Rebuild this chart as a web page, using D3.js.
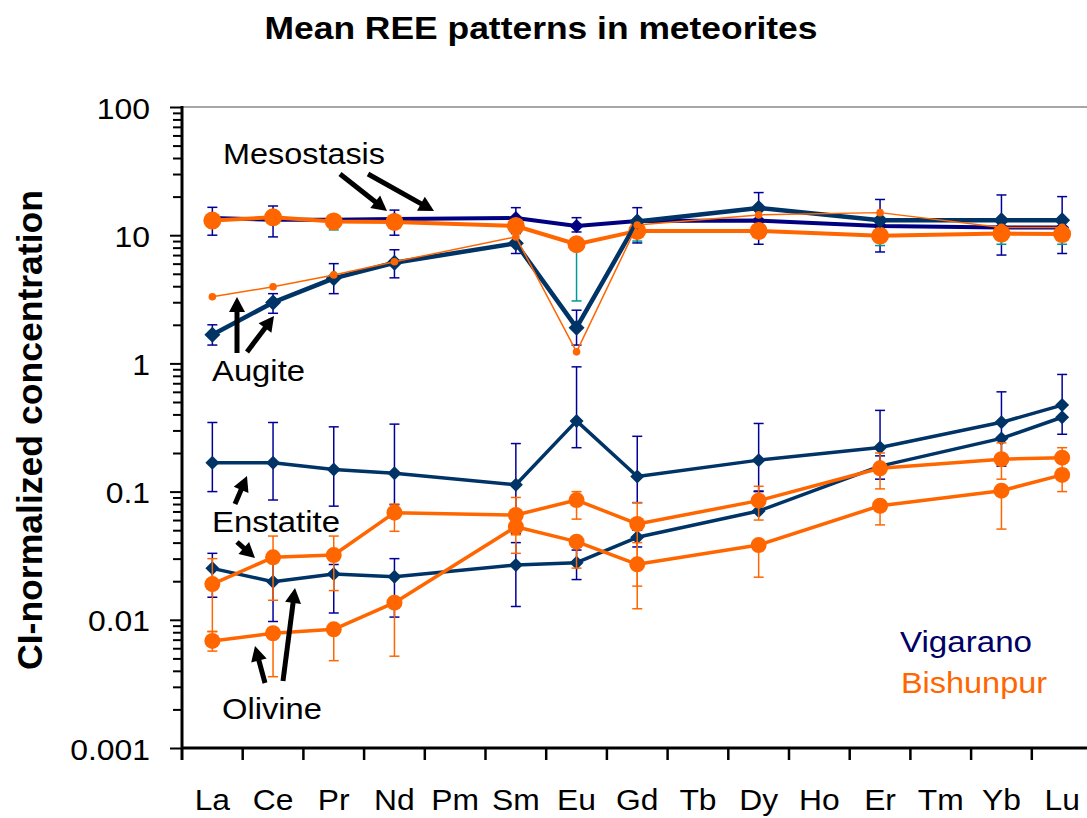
<!DOCTYPE html>
<html><head><meta charset="utf-8">
<script src="https://cdn.jsdelivr.net/npm/d3@7"></script>
<style>
body{margin:0;background:#fff}
svg{display:block}
text{font-family:"Liberation Sans",Arial,Helvetica,sans-serif}
</style>
</head><body>
<svg id="chart" width="1087" height="818"></svg>
<script>
// ---------- data ----------
const categories = ["La","Ce","Pr","Nd","Pm","Sm","Eu","Gd","Tb","Dy","Ho","Er","Tm","Yb","Lu"];
const yTickValues = [0.001, 0.01, 0.1, 1, 10, 100];
const yTickLabels = ["0.001", "0.01", "0.1", "1", "10", "100"];

// Mesostasis
const mesoVig   = [13.6, 13.2, 13.2, 13.4, null, 13.6, 11.8, 12.9, null, 13.0, null, 11.8, null, 11.5, 11.5];
const mesoVigLo = [10.0, 9.7, null, 10.0, null, 10.3, 10.6, 8.7, null, 8.5, null, 7.4, null, 7.0, 7.2];
const mesoVigHi = [16.5, 16.9, null, 15.7, null, 16.4, 13.7, 16.4, null, 21.5, null, 19.0, null, 20.6, 20.0];
const mesoBish   = [13.0, 13.8, 12.8, 12.7, null, 11.8, 8.5, 10.8, null, 10.8, null, 9.9, null, 10.3, 10.2];
const mesoBishLo = [null, null, 11.0, null, null, null, 3.07, 9.0, null, null, null, 8.3, null, 8.5, 8.5];
const mesoBishHi = [null, null, null, null, null, null, null, null, null, null, null, null, null, null, null];

// Augite
const augVig   = [1.67, 2.99, 4.61, 6.1, null, 8.65, 1.90, 12.8, null, 16.3, null, 13.1, null, 13.1, 13.1];
const augVigLo = [1.39, 2.46, 3.5, 4.65, null, 7.2, 1.39, null, null, null, null, null, null, null, null];
const augVigHi = [2.0, 3.5, 6.0, 7.7, null, null, 2.6, null, null, null, null, null, null, null, null];
const augBish  = [3.31, 3.96, 4.9, 6.2, null, 9.7, 1.23, 12.0, null, 14.4, null, 15.0, null, 11.5, 11.5];

// Enstatite
const enstVig   = [0.168, 0.168, 0.149, 0.139, null, 0.113, 0.356, 0.131, null, 0.176, null, 0.221, null, 0.347, 0.473];
const enstVigLo = [0.1, 0.086, 0.077, 0.079, null, 0.047, 0.22, 0.082, null, 0.101, null, 0.125, null, 0.158, 0.28];
const enstVigHi = [0.346, 0.346, 0.32, 0.336, null, 0.237, 0.94, 0.27, null, 0.34, null, 0.43, null, 0.6, 0.82];
const enstBish   = [0.019, 0.0307, 0.032, 0.0685, null, 0.0657, 0.0859, 0.0559, null, 0.085, null, 0.152, null, 0.179, 0.184];
const enstBishLo = [0.0081, 0.0142, 0.0169, 0.049, null, 0.046, 0.061, 0.0183, null, 0.06, null, 0.105, null, 0.125, 0.15];
const enstBishHi = [0.03, 0.045, 0.045, 0.08, null, 0.09, 0.1, 0.082, null, 0.11, null, 0.2, null, 0.24, 0.22];

// Olivine
const olVig   = [0.0252, 0.0198, 0.0228, 0.0217, null, 0.0268, 0.0279, 0.044, null, 0.0706, null, 0.158, null, 0.26, 0.38];
const olVigLo = [0.015, 0.0097, 0.0113, 0.0105, null, 0.0127, 0.0206, 0.037, null, null, null, null, null, null, null];
const olVigHi = [0.033, 0.03, 0.027, 0.03, null, 0.04, 0.035, 0.05, null, 0.1, null, 0.19, null, null, null];
const olBish   = [0.00684, 0.00785, 0.00843, 0.0136, null, 0.0532, 0.0407, 0.0271, null, 0.0383, null, 0.0776, null, 0.1016, 0.135];
const olBishLo = [0.0057, 0.0036, 0.0048, 0.0052, null, 0.033, 0.0253, 0.0122, null, 0.0215, null, 0.055, null, 0.051, 0.1];
const olBishHi = [0.0081, null, null, null, null, null, null, 0.04, null, null, null, null, null, null, null];

// ---------- styles ----------
const NAVY = "#000080", DARK = "#003366", ORANGE = "#FF6600", ERRNAVY = "#000099", TEAL = "#009999";
const series = [
  {v: mesoVig,  lo: mesoVigLo,  hi: mesoVigHi,  color: NAVY,   w: 4,   marker: "diamond", s: 7,   err: ERRNAVY},
  {v: mesoBish, lo: mesoBishLo, hi: mesoBishHi, color: ORANGE, w: 4,   marker: "circle",  s: 9,   err: TEAL},
  {v: augVig,   lo: augVigLo,   hi: augVigHi,   color: DARK,   w: 4.5, marker: "diamond", s: 8,   err: ERRNAVY},
  {v: augBish,  lo: null,       hi: null,       color: ORANGE, w: 1.5, marker: "circle",  s: 3.8, err: ORANGE},
  {v: enstVig,  lo: enstVigLo,  hi: enstVigHi,  color: DARK,   w: 3.5, marker: "diamond", s: 7,   err: ERRNAVY},
  {v: olVig,    lo: olVigLo,    hi: olVigHi,    color: DARK,   w: 3.5, marker: "diamond", s: 7,   err: ERRNAVY},
  {v: enstBish, lo: enstBishLo, hi: enstBishHi, color: ORANGE, w: 3.5, marker: "circle",  s: 8,   err: ORANGE},
  {v: olBish,   lo: olBishLo,   hi: olBishHi,   color: ORANGE, w: 3.5, marker: "circle",  s: 8,   err: ORANGE}
];

// ---------- scales ----------
const svg = d3.select("#chart");
const x = d3.scaleBand().domain(categories).range([182, 1092.5]);
const cx = c => x(c) + x.bandwidth() / 2;
const y = d3.scaleLog().domain([0.001, 100]).range([748, 107]);

function stretch(sel, f) {
  sel.each(function () {
    const L = this.getComputedTextLength();
    d3.select(this).attr("textLength", L * f).attr("lengthAdjust", "spacingAndGlyphs");
  });
}

// top frame line
svg.append("line").attr("x1", 182).attr("x2", 1087).attr("y1", y(100)).attr("y2", y(100))
  .attr("stroke", "#a6a6a6").attr("stroke-width", 2);

// ---------- series ----------
const line = d3.line().x(d => cx(d.c)).y(d => y(d.v));
series.forEach(S => {
  const pts = categories.map((c, i) => ({c, i, v: S.v[i]})).filter(d => d.v != null);
  const g = svg.append("g");
  if (S.lo) {
    pts.forEach(d => {
      const lo = S.lo[d.i], hi = S.hi ? S.hi[d.i] : null;
      if (lo == null && hi == null) return;
      const X = cx(d.c);
      const y1 = y(lo != null ? lo : d.v), y2 = y(hi != null ? hi : d.v);
      g.append("line").attr("x1", X).attr("x2", X).attr("y1", y1).attr("y2", y2)
        .attr("stroke", S.err).attr("stroke-width", 1.5);
      [lo, hi].forEach(b => {
        if (b == null) return;
        g.append("line").attr("x1", X - 5).attr("x2", X + 5).attr("y1", y(b)).attr("y2", y(b))
          .attr("stroke", S.err).attr("stroke-width", 1.5);
      });
    });
  }
  g.append("path").attr("d", line(pts)).attr("fill", "none")
    .attr("stroke", S.color).attr("stroke-width", S.w).attr("stroke-linejoin", "round");
  pts.forEach(d => {
    const X = cx(d.c), Y = y(d.v);
    if (S.marker === "circle") {
      g.append("circle").attr("cx", X).attr("cy", Y).attr("r", S.s).attr("fill", S.color);
    } else {
      const s = S.s;
      g.append("path").attr("transform", `translate(${X},${Y})`)
        .attr("d", `M0,${-s}L${s},0L0,${s}L${-s},0Z`).attr("fill", S.color);
    }
  });
});

// ---------- axes ----------
const minor = [];
for (let e = -3; e < 2; e++) for (let k = 2; k <= 9; k++) minor.push(k * Math.pow(10, e));
svg.append("g").attr("transform", "translate(182,0)")
  .call(d3.axisLeft(y).tickValues(minor).tickSize(9).tickFormat(""))
  .call(g => g.select(".domain").remove())
  .selectAll("line").attr("stroke", "#000").attr("stroke-width", 2);
const yAx = svg.append("g").attr("transform", "translate(182,0)")
  .call(d3.axisLeft(y).tickValues(yTickValues).tickSize(12).tickSizeOuter(0).tickPadding(20)
    .tickFormat((d, i) => yTickLabels[i]));
yAx.select(".domain").remove();
yAx.selectAll("line").attr("stroke", "#000").attr("stroke-width", 2);
yAx.selectAll("text").attr("font-size", 29).attr("fill", "#000").attr("dy", "0.38em")
  .style("font-family", '"Liberation Sans",Arial,sans-serif');
stretch(yAx.selectAll("text"), 1.1);
svg.append("line").attr("x1", 182).attr("x2", 182).attr("y1", y(100) - 1).attr("y2", 760)
  .attr("stroke", "#000").attr("stroke-width", 3);

const xAx = svg.append("g").attr("transform", "translate(0,748)")
  .call(d3.axisBottom(x).tickSize(0).tickPadding(62));
xAx.select(".domain").remove();
xAx.selectAll("text").attr("font-size", 30).attr("fill", "#000").attr("dy", 0)
  .style("font-family", '"Liberation Sans",Arial,sans-serif');
stretch(xAx.selectAll("text"), 1.06);
svg.append("line").attr("x1", 182).attr("x2", 1087).attr("y1", 748).attr("y2", 748)
  .attr("stroke", "#000").attr("stroke-width", 3);
svg.append("g").selectAll("line").data(categories.slice(1)).join("line")
  .attr("x1", d => x(d)).attr("x2", d => x(d)).attr("y1", 748).attr("y2", 760)
  .attr("stroke", "#000").attr("stroke-width", 2.5);

// ---------- texts ----------
svg.append("text").attr("x", 541).attr("y", 39).attr("text-anchor", "middle")
  .attr("font-size", 31).attr("font-weight", "bold")
  .attr("textLength", 553).attr("lengthAdjust", "spacingAndGlyphs")
  .text("Mean REE patterns in meteorites");

svg.append("g").attr("transform", "translate(42,430) scale(1.12,1)")
  .append("text").attr("transform", "rotate(-90)").attr("text-anchor", "middle")
  .attr("font-size", 32).attr("font-weight", "bold")
  .attr("textLength", 480).attr("lengthAdjust", "spacingAndGlyphs")
  .text("CI-normalized concentration");

const labels = [
  {t: "Mesostasis", x: 223, y: 164, w: 162, c: "#000"},
  {t: "Augite", x: 212, y: 381, w: 93, c: "#000"},
  {t: "Enstatite", x: 212, y: 532, w: 128, c: "#000"},
  {t: "Olivine", x: 222, y: 719, w: 100, c: "#000"},
  {t: "Vigarano", x: 900, y: 652, w: 132, c: "#000066"},
  {t: "Bishunpur", x: 901, y: 693, w: 146, c: ORANGE}
];
labels.forEach(L => {
  svg.append("text").attr("x", L.x).attr("y", L.y).attr("font-size", 29).attr("fill", L.c)
    .attr("textLength", L.w).attr("lengthAdjust", "spacingAndGlyphs").text(L.t);
});

const arrows = [
  [[340, 174], [387, 211]], [[368, 174], [434, 211]],
  [[237, 353], [237, 297]], [[247, 352], [274, 316]],
  [[235, 504], [247, 476]], [[237, 542], [255, 558]],
  [[265, 683], [255, 646]], [[283, 681], [295, 588]]
];
arrows.forEach(([a, b]) => {
  const dx = b[0] - a[0], dy = b[1] - a[1], L = Math.hypot(dx, dy);
  const ux = dx / L, uy = dy / L, hl = 15, hw = 8;
  const bx = b[0] - ux * hl, by = b[1] - uy * hl;
  svg.append("line").attr("x1", a[0]).attr("y1", a[1]).attr("x2", bx + ux * 2).attr("y2", by + uy * 2)
    .attr("stroke", "#000").attr("stroke-width", 5);
  svg.append("path").attr("fill", "#000")
    .attr("d", `M${b[0]},${b[1]}L${bx - uy * hw},${by + ux * hw}L${bx + uy * hw},${by - ux * hw}Z`);
});
</script>
</body></html>
